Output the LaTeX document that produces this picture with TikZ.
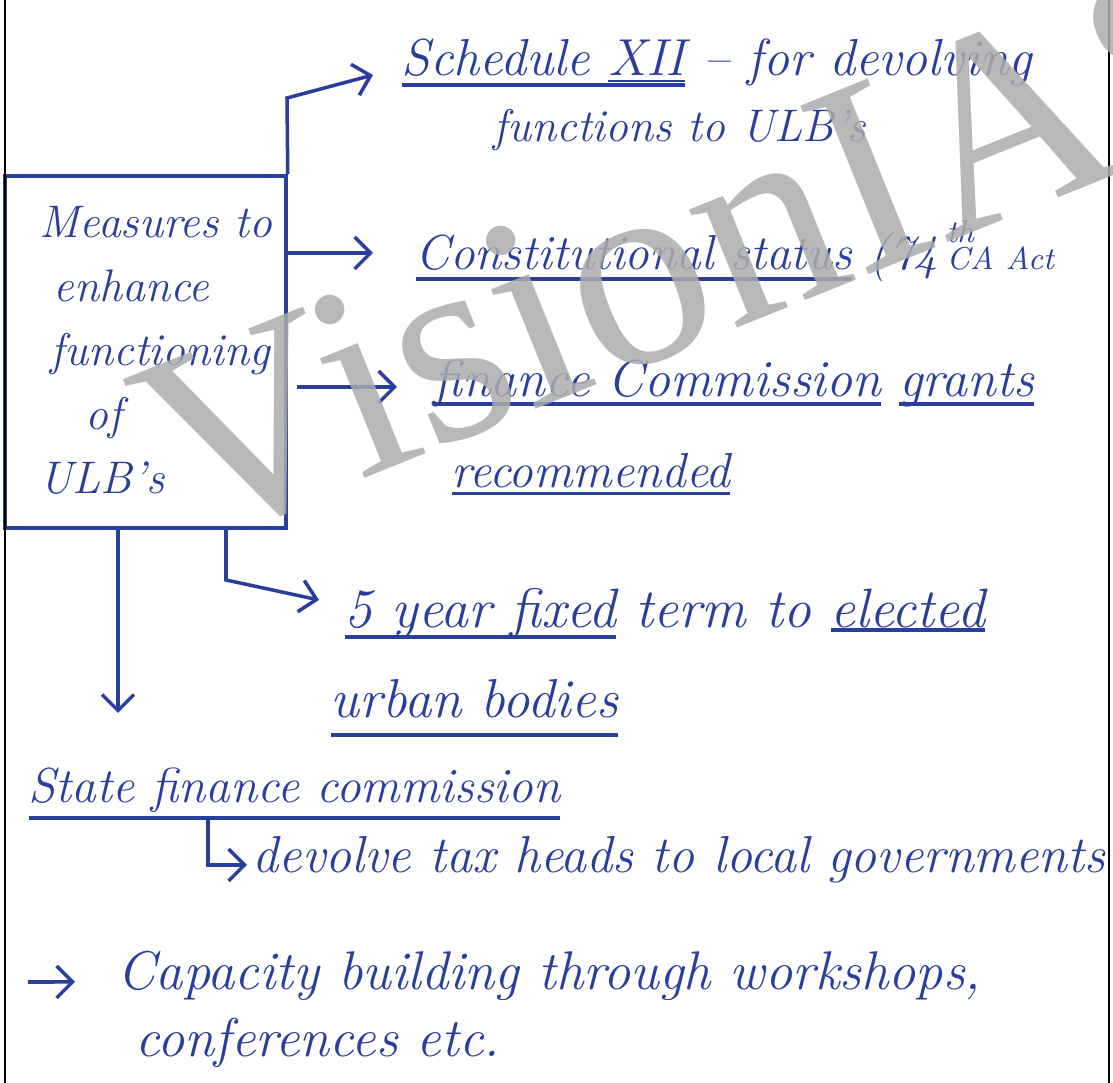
\documentclass[tikz,border=0pt]{standalone}
\usepackage{fontspec}
\usepackage{xcolor}
\usepackage{tikz}
\usetikzlibrary{positioning, calc, arrows.meta}

\newfontfamily\wmfont{Liberation Serif}
\definecolor{ink}{RGB}{42,62,158}
\definecolor{wmgray}{RGB}{172,172,172}
% hand underline below a phrase, optional drop
\newcommand{\hul}[2][3pt]{\sbox0{#2}\rlap{\rule[-#1]{\wd0}{1pt}}\usebox0}

\begin{document}
\begin{tikzpicture}[
    hand/.style={text=ink, font=\fontsize{14}{18.2}\selectfont\itshape, inner sep=0pt, anchor=base west},
    pen/.style={font=\fontsize{#1}{18.2}\selectfont\itshape},
    ulbbox/.style={draw=ink, line width=1pt, minimum width=2.81cm, minimum height=3.52cm, inner sep=0pt},
    arr/.style={draw=ink, line width=1pt, -{Straight Barb[length=1.6mm, width=3.2mm]}},
    pageedge/.style={draw=black, line width=0.8pt}
  ]
  \useasboundingbox (0,0) rectangle (11.13,-10.83);

  % central box
  \node[ulbbox] (box) at (1.455,-3.52) {};
  \node[hand, pen=13, anchor=north west, align=left] (boxtext) at (0.39,-2.06)
    {Measures to\\\hspace*{0.14cm}enhance\\\hspace*{0.11cm}functioning\\\hspace*{0.46cm}of\\ULB's};

  % branches
  \node[hand, pen=14.8] (sched) at (4.01,-0.76) {\hul{Schedule \underline{XII}} -- for devolving};
  \node[hand, pen=13] (func) at (4.93,-1.42) {functions to ULB's};
  \node[hand] (const) at (4.15,-2.70) {\hul{Constitutional status} (74\,\rlap{\raisebox{1.3ex}{\small th}}{\small CA Act}};
  \node[hand, pen=14.8] (fin) at (4.33,-3.97) {\hul[2.5pt]{finance Commission} \hul[2.5pt]{grants}};
  \node[hand] (rec) at (4.51,-4.88) {\hul[2pt]{recommended}};
  \node[hand, pen=15.8] (term) at (3.44,-6.28) {\hul{5 year fixed} term to \hul[1pt]{elected}};
  \node[hand, pen=15.6] (urban) at (3.30,-7.18) {\hul[5.4pt]{urban bodies}};
  \node[hand] (sfc) at (0.28,-8.03) {\hul[4.8pt]{State finance commission}};
  \node[hand, pen=14.8] (devolve) at (2.52,-8.73) {devolve tax heads to local governments};
  \node[hand, pen=15.5] (cap) at (1.17,-9.90) {Capacity building through workshops,};
  \node[hand, pen=15.5] (conf) at (1.35,-10.57) {conferences etc.};

  \coordinate (k1) at (2.87,-0.98);
  \coordinate (a2) at ($(const.base west)+(-0.42,0.17)$);
  \coordinate (a3) at ($(fin.base west)+(-0.36,0.10)$);
  \coordinate (k4) at (2.26,-5.80);
  \coordinate (a5) at (1.18,-7.13);
  \coordinate (k6) at ($(sfc.base west)+(1.80,-0.17)$);
  \coordinate (a7) at (0.28,-9.82);

  \draw[arr] (box.north east) -- (k1) -- ($(sched.base west)+(-0.28,0.01)$);
  \draw[arr] (box.east |- a2) -- (a2);
  \draw[arr] ([xshift=0.09cm]box.east |- a3) -- (a3);
  \draw[arr] (box.south -| k4) -- (k4) -- ($(term.base west)+(-0.25,0.28)$);
  \draw[arr] (box.south -| a5) -- (a5);
  \draw[arr] (k6) |- ($(devolve.base west)+(-0.05,0.08)$);
  \draw[arr] (a7) -- ($(cap.base west)+(-0.42,0.08)$);

  % page edges
  \draw[pageedge] (0.05,0) -- (0.05,-10.83);
  \draw[pageedge] (11.09,0) -- (11.09,-10.83);

  % watermark
  \node[text=wmgray, opacity=0.85, font=\wmfont\fontsize{79}{82}\selectfont, rotate=22, inner sep=0pt] (mark) at (6.98,-2.47) {VisionIAS};
\end{tikzpicture}
\end{document}
